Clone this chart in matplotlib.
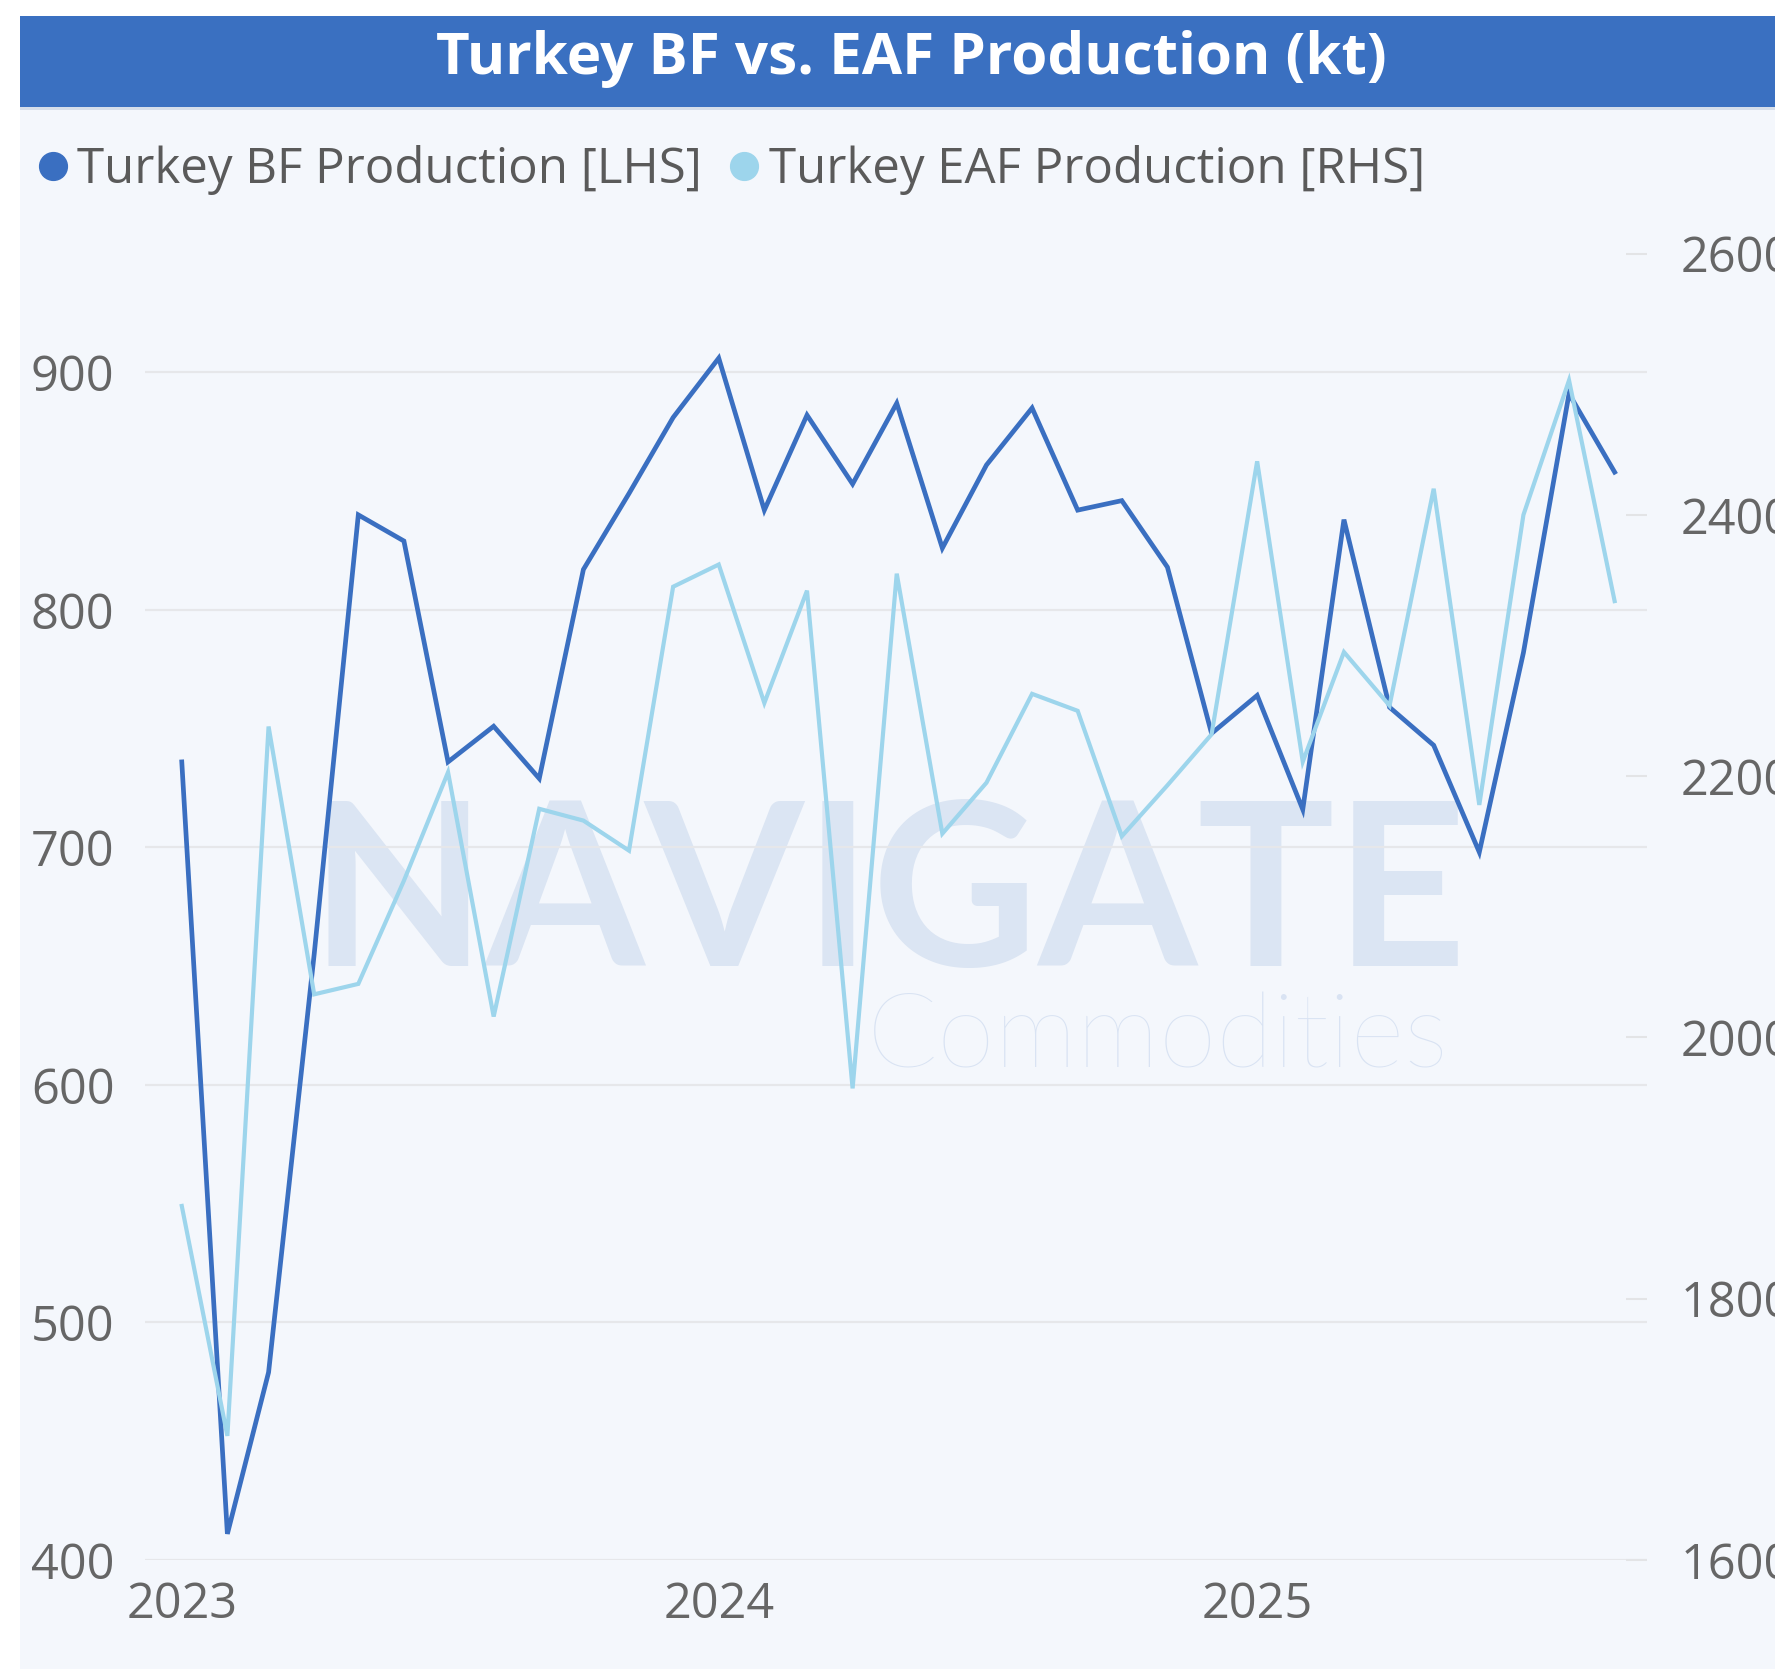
import matplotlib
matplotlib.use("Agg")
import matplotlib.pyplot as plt
from matplotlib.lines import Line2D
from matplotlib.patches import Rectangle
import pandas as pd

# ---------------- data ----------------
months = pd.date_range("2023-01-01", periods=33, freq="MS")
bf_production = [736, 411, 479, 655, 840, 829, 736, 751, 729, 817, 849, 881,
                 906, 842, 882, 853, 887, 826, 861, 885, 842, 846, 818, 748,
                 764, 716, 838, 759, 743, 698, 782, 891, 858]
eaf_production = [1871, 1695, 2238, 2033, 2041, 2120, 2203, 2016, 2175, 2166, 2143, 2345,
                  2362, 2256, 2342, 1961, 2355, 2156, 2195, 2263, 2250, 2154, 2193, 2232,
                  2441, 2211, 2295, 2254, 2420, 2178, 2400, 2503, 2334]
left_ticks = [400, 500, 600, 700, 800, 900]
right_ticks = [1600, 1800, 2000, 2200, 2400, 2600]
year_ticks = ["2023-01-01", "2024-01-01", "2025-01-01"]
year_labels = ["2023", "2024", "2025"]
title = "Turkey BF vs. EAF Production (kt)"
series_names = ["Turkey BF Production [LHS]", "Turkey EAF Production [RHS]"]

# ---------------- style ----------------
W, H, DPI = 1775, 1669, 100
FONT = "Open Sans"
c_bf = "#3a6fc1"
c_eaf = "#9dd5ec"
c_bg = "#f4f7fc"
c_bar = "#3a70c1"
c_txt = "#666666"
c_grid = "#e6e7ea"

plt.rcParams["font.family"] = [FONT, "DejaVu Sans"]

fig = plt.figure(figsize=(W / DPI, H / DPI), dpi=DPI, facecolor="white")

# panel background and title bar
fig.patches.append(Rectangle((20 / W, 0), 1, 1 - 16 / H, transform=fig.transFigure,
                             facecolor=c_bg, edgecolor="none", zorder=0))
fig.patches.append(Rectangle((20 / W, 1 - 110 / H), 1, 3 / H, transform=fig.transFigure,
                             facecolor="#d5deeb", edgecolor="none", zorder=0.1))
fig.patches.append(Rectangle((20 / W, 1 - 107.5 / H), 1, 91.5 / H, transform=fig.transFigure,
                             facecolor=c_bar, edgecolor="none", zorder=0.2))
fig.text(911 / W, 1 - 59 / H, title, ha="center", va="center", color="white",
         fontsize=42, fontweight="bold", family=FONT, zorder=3)

# watermark
fig.text(888 / W, 1 - 900 / H, "NAVIGATE", ha="center", va="center", color="#dbe5f3",
         fontsize=165, fontweight="bold", family="Lato", zorder=0.5)
fig.text(1449 / W, 1 - 1068 / H, "Commodities", ha="right", va="baseline", color="#d9e3f3",
         fontsize=75, fontweight="light", family="Lato", zorder=0.5)

# axes
ax = fig.add_axes([145 / W, 109 / H, (1647 - 145) / W, (1560 - 253.6) / H])
ax.set_zorder(2)
ax.set_facecolor("none")
ax2 = ax.twinx()
ax2.set_zorder(3)
ax2.set_facecolor("none")

ax.plot(months, bf_production, color=c_bf, lw=3.4, solid_joinstyle="miter", zorder=3)
ax2.plot(months, eaf_production, color=c_eaf, lw=3.0, solid_joinstyle="miter", zorder=3)

ax.set_ylim(400, 950)
ax2.set_ylim(1600, 2600)
ax.set_xlim(pd.Timestamp("2022-12-07"), pd.Timestamp("2025-09-23"))

ax.set_yticks(left_ticks)
ax.set_yticklabels([str(v) for v in left_ticks])
ax2.set_yticks(right_ticks)
ax2.set_yticklabels([str(v) for v in right_ticks])
ax.set_xticks([pd.Timestamp(d) for d in year_ticks])
ax.set_xticklabels(year_labels)

ax.grid(axis="y", color=c_grid, lw=1.6)
ax.set_axisbelow(True)
for a in (ax, ax2):
    for s in a.spines.values():
        s.set_visible(False)

ax.tick_params(axis="y", length=0, pad=22, labelsize=35, labelcolor=c_txt)
ax.tick_params(axis="x", length=0, pad=15, labelsize=35, labelcolor=c_txt)
ax2.tick_params(axis="y", direction="in", length=15, width=1.5, color="#e3e4e6",
                pad=24, labelsize=35, labelcolor=c_txt)

# legend
handles = [Line2D([], [], ls="none", marker="o", markersize=20, color=c_bf),
           Line2D([], [], ls="none", marker="o", markersize=20, color=c_eaf)]
leg = fig.legend(handles, series_names, loc="center left",
                 bbox_to_anchor=(38 / W, 1 - 170 / H), ncol=2, frameon=False,
                 handlelength=0.6, handletextpad=0.2, columnspacing=0.55,
                 borderaxespad=0, borderpad=0, fontsize=35.5, labelcolor="#5a5a5a")

fig.savefig("out.png", dpi=DPI, facecolor="white")
